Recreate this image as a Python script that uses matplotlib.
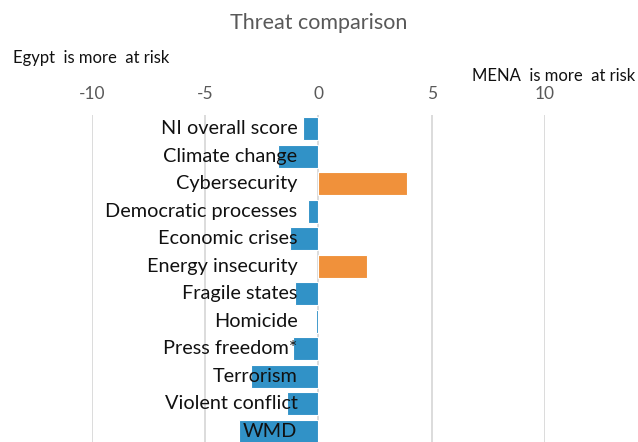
import matplotlib.pyplot as plt
import numpy as np

# Threat comparison: Egypt vs MENA (negative = Egypt more at risk)
categories = ["NI overall score", "Climate change", "Cybersecurity", "Democratic processes",
              "Economic crises", "Energy insecurity", "Fragile states", "Homicide",
              "Press freedom*", "Terrorism", "Violent conflict", "WMD"]
values = [-0.67, -1.77, 3.9, -0.47, -1.25, 2.16, -1.04, -0.1, -1.11, -2.98, -1.38, -3.5]
tick_values = [-10, -5, 0, 5, 10]

blue = "#3192c7"
orange = "#f0913b"

plt.rcParams['font.family'] = ['Lato', 'DejaVu Sans']

fig = plt.figure(figsize=(6.38, 4.42), dpi=100)
ax = fig.add_axes([0.144, -0.007, 0.71, 0.747])

y = np.arange(len(categories))
colors = [orange if v > 0 else blue for v in values]
ax.barh(y, values, height=0.84, color=colors, edgecolor="white", linewidth=0.8, zorder=3)

# category labels sit just left of zero
for yi, name in zip(y, categories):
    ax.annotate(name, xy=(0, yi), xytext=(-15, 0), textcoords="offset points",
                ha="right", va="center", fontsize=14.3, color="#111111", zorder=4)

ax.set_xlim(-10, 10)
ax.set_ylim(len(categories) - 0.5, -0.5)
ax.set_xticks(tick_values)
ax.set_xticklabels([str(t) for t in tick_values])
ax.xaxis.tick_top()
ax.tick_params(axis="x", length=0, pad=9, labelsize=12.5, labelcolor="#595959")
ax.set_yticks([])
ax.grid(axis="x", color="#d9d9d9", linewidth=1.3, zorder=0)
for s in ax.spines.values():
    s.set_visible(False)

fig.text(0.5, 0.948, "Threat comparison", ha="center", va="center", fontsize=15.5, color="#595959")
fig.text(0.02, 0.868, "Egypt  is more  at risk", ha="left", va="center", fontsize=12, color="#111111")
fig.text(0.996, 0.828, "MENA  is more  at risk", ha="right", va="center", fontsize=12, color="#111111")

fig.savefig("out.png", dpi=100)
